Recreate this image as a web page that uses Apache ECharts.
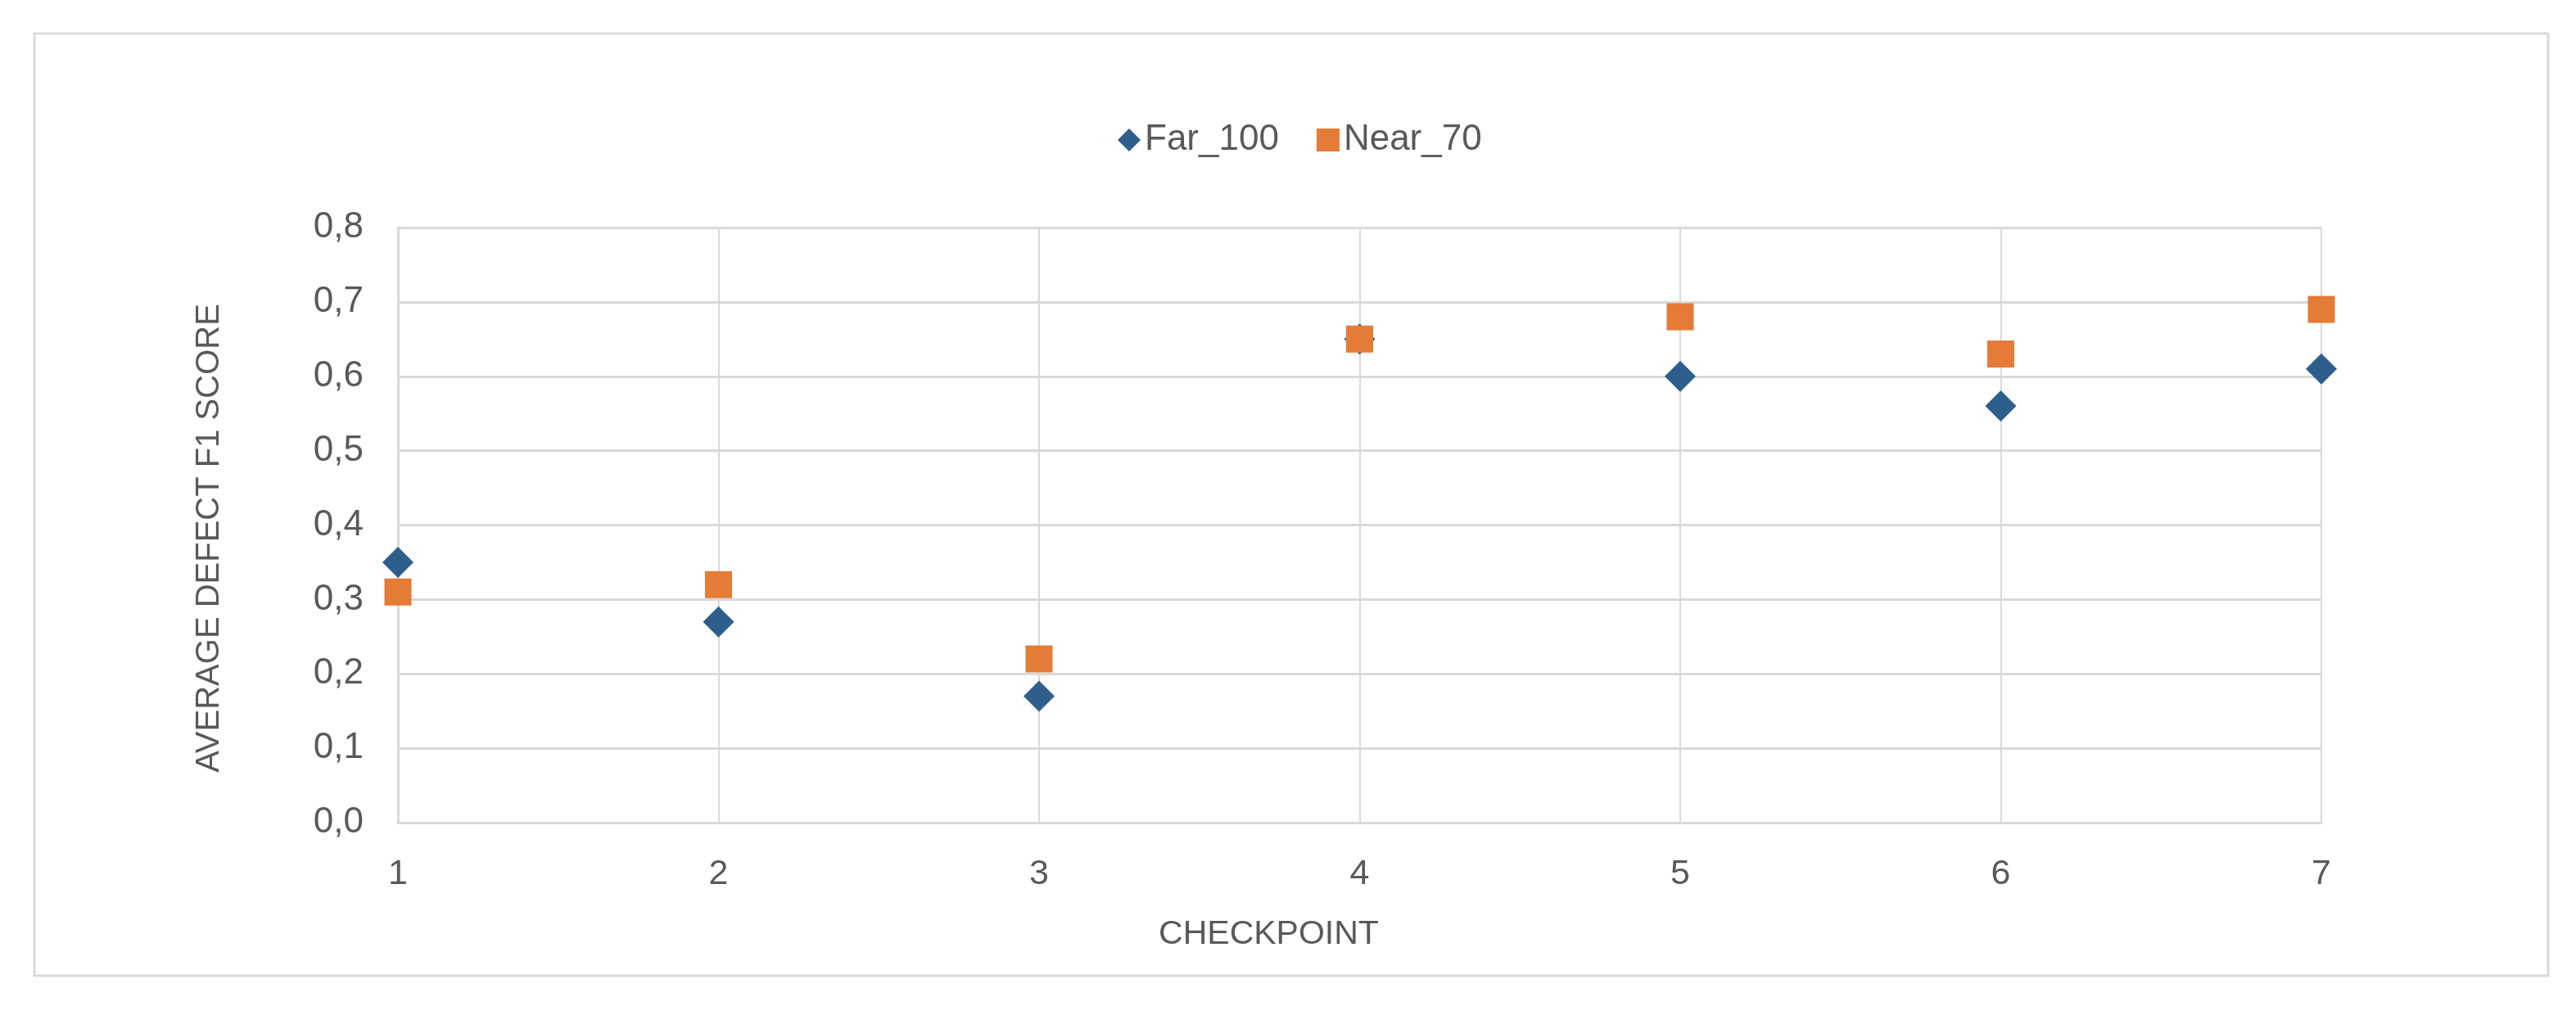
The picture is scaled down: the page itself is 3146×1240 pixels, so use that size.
<!DOCTYPE html>
<html>
<head>
<meta charset="utf-8">
<script src="https://cdn.jsdelivr.net/npm/echarts@6/dist/echarts.min.js"></script>
<style>
html,body{margin:0;padding:0;background:#fff;}
#c{width:3146px;height:1240px;}
</style>
</head>
<body>
<div id="c"></div>
<script>
const checkpoints = [1, 2, 3, 4, 5, 6, 7];
const far100 = [0.35, 0.27, 0.17, 0.65, 0.60, 0.56, 0.61];
const near70 = [0.31, 0.32, 0.22, 0.65, 0.68, 0.63, 0.69];
const yTickLabels = ['0,0','0,1','0,2','0,3','0,4','0,5','0,6','0,7','0,8'];
const xTickLabels = ['1','2','3','4','5','6','7'];

const textColor = '#595959';
const font = 'Liberation Sans, Arial, sans-serif';
const chart = echarts.init(document.getElementById('c'), null, {renderer: 'canvas'});
chart.setOption({
  backgroundColor: '#ffffff',
  animation: false,
  graphic: [{
    type: 'rect',
    shape: {x: 42, y: 41, width: 3070, height: 1151},
    style: {fill: 'none', stroke: '#D9D9D9', lineWidth: 3},
    silent: true
  }],
  legend: {
    top: 144,
    left: 1360,
    itemWidth: 28,
    itemHeight: 28,
    itemGap: 46,
    textStyle: {fontSize: 44, color: textColor, fontFamily: font, padding: [0,0,0,0]},
    data: [{name: 'Far_100', icon: 'diamond'}, {name: 'Near_70', icon: 'rect'}]
  },
  grid: {left: 486, right: 311, top: 278, bottom: 235, containLabel: false},
  xAxis: {
    type: 'value',
    min: 1, max: 7, interval: 1,
    name: 'CHECKPOINT',
    nameLocation: 'middle',
    nameGap: 116,
    nameTextStyle: {fontSize: 41, color: textColor, fontFamily: font, padding: [0, 222, 0, 0]},
    axisLine: {show: true, lineStyle: {color: '#D9D9D9', width: 3}},
    axisTick: {show: false},
    axisLabel: {
      fontSize: 43, color: textColor, fontFamily: font, margin: 42,
      formatter: v => xTickLabels[checkpoints.indexOf(v)] ?? ''
    },
    splitLine: {show: true, lineStyle: {color: '#D9D9D9', width: 2}}
  },
  yAxis: {
    type: 'value',
    min: 0, max: 0.8, interval: 0.1,
    name: 'AVERAGE DEFECT F1 SCORE',
    nameLocation: 'middle',
    nameGap: 210,
    nameTextStyle: {fontSize: 40, color: textColor, fontFamily: font, padding: [0, 32, 0, 0]},
    axisLine: {show: true, lineStyle: {color: '#D9D9D9', width: 3}},
    axisTick: {show: false},
    axisLabel: {
      fontSize: 44, color: textColor, fontFamily: font, margin: 42,
      formatter: v => yTickLabels[Math.round(v * 10)]
    },
    splitLine: {show: true, lineStyle: {color: '#D9D9D9', width: 3}}
  },
  series: [
    {
      name: 'Far_100',
      type: 'scatter',
      symbol: 'diamond',
      symbolSize: 38,
      itemStyle: {color: '#2E5E8C', opacity: 1},
      data: checkpoints.map((c, i) => [c, far100[i]])
    },
    {
      name: 'Near_70',
      type: 'scatter',
      symbol: 'rect',
      symbolSize: 33,
      itemStyle: {color: '#E47B37', opacity: 1},
      data: checkpoints.map((c, i) => [c, near70[i]])
    }
  ]
});
</script>
</body>
</html>
